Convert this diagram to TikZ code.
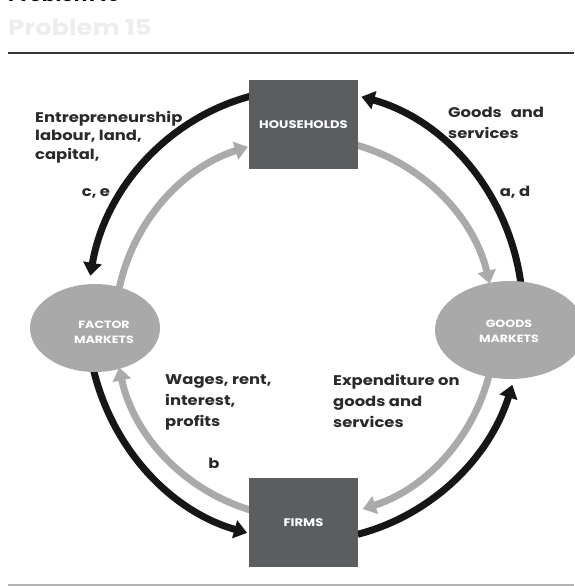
\documentclass[tikz,border=0pt]{standalone}
\usepackage{fontspec}
\setmainfont{Poppins}
\newfontfamily\widefont[FakeStretch=1.17]{Poppins}
\newfontfamily\capfont[FakeStretch=1.2]{Poppins}
\usetikzlibrary{arrows.meta,shapes.geometric}
\definecolor{boxgray}{HTML}{5B5E61}
\definecolor{ellgray}{HTML}{A9A9A9}
\definecolor{arrgray}{HTML}{AAAAAA}
\definecolor{arrblack}{HTML}{161616}
\definecolor{txt}{HTML}{2A2A2A}
\tikzset{
  flowblack/.style={draw=arrblack,line width=7pt,-{Triangle[width=18pt,length=13pt]}},
  flowgray/.style={draw=arrgray,line width=7pt,-{Triangle[width=18pt,length=13pt]}},
  agent/.style={rectangle,fill=boxgray,minimum width=109pt,minimum height=89pt,inner sep=0pt,
    text=white,font=\capfont\fontsize{11}{14}\selectfont\bfseries},
  market/.style={ellipse,fill=ellgray,inner sep=0pt},
  mlabel/.style={text=white,align=center,font=\capfont\fontsize{10.5}{15}\selectfont\bfseries,inner sep=0pt},
  flowlabel/.style={text=txt,align=left,inner sep=0pt,anchor=north west},
  letter/.style={text=txt,inner sep=0pt,font=\widefont\fontsize{14}{18}\selectfont\bfseries}
}
\begin{document}
\begin{tikzpicture}[x=1pt,y=-1pt]
\useasboundingbox[fill=white] (0,0) rectangle (574,586);
% header
\node[anchor=base west,inner sep=0pt,font=\fontsize{20}{24}\selectfont\bfseries] (ptitle) at (8,2) {Problem 15};
\node[anchor=base west,inner sep=0pt,text=black!7,font=\widefont\fontsize{22}{26}\selectfont\bfseries] (pghost) at (8,36) {Problem 15};
\draw[line width=1.8pt,black!78] (8,53) -- (574,53);
\draw[line width=1.5pt,black!30] (8,585) -- (574,585);
% centres of the flow circles
\coordinate (cb) at (305,315);
\coordinate (cg) at (305,328);
% black (outer) flows
\draw[flowblack] ([shift={(256:218 and 226)}]cb) arc[start angle=256,end angle=190,x radius=218,y radius=226];
\draw[flowblack] ([shift={(354:218 and 226)}]cb) arc[start angle=354,end angle=285,x radius=218,y radius=226];
\draw[flowblack] ([shift={(170:218 and 226)}]cb) arc[start angle=170,end angle=105.4,x radius=218,y radius=226];
\draw[flowblack] ([shift={(76:218 and 226)}]cb) arc[start angle=76,end angle=18,x radius=218,y radius=226];
% gray (inner) flows
\draw[flowgray] ([shift={(190:190)}]cg) arc[start angle=190,end angle=252.5,radius=190];
\draw[flowgray] ([shift={(285:190)}]cg) arc[start angle=285,end angle=346.5,radius=190];
\draw[flowgray] ([shift={(12:190)}]cg) arc[start angle=12,end angle=72.3,radius=190];
\draw[flowgray] ([shift={(106:190)}]cg) arc[start angle=106,end angle=168,radius=190];
% agents and markets
\node[agent] (hh) at (303.5,124.5) {HOUSEHOLDS};
\node[agent] (firms) at (303.5,522.5) {FIRMS};
\node[market,minimum width=130pt,minimum height=88pt] (fm) at (95,328) {};
\node[mlabel] (fmlab) at (104,332) {FACTOR\\MARKETS};
\node[market,minimum width=150pt,minimum height=98pt] (gm) at (510,330) {};
\node[mlabel] (gmlab) at (509,331) {GOODS\\MARKETS};
% flow labels
\node[flowlabel,font=\widefont\fontsize{14}{18.5}\selectfont\bfseries] (l1) at (35,111) {Entrepreneurship\\labour, land,\\capital,};
\node[flowlabel,font=\widefont\fontsize{14}{21}\selectfont\bfseries] (l2) at (448,107) {Goods\hspace{9pt}and\\services};
\node[flowlabel,font=\widefont\fontsize{14}{21}\selectfont\bfseries] (l3) at (165,374) {Wages, rent,\\interest,\\profits};
\node[flowlabel,font=\widefont\fontsize{14}{21}\selectfont\bfseries] (l4) at (333,374) {Expenditure on\\goods and\\services};
\node[letter] (ce) at (96,193) {c, e};
\node[letter] (ad) at (515,192) {a, d};
\node[letter] (b) at (214,463) {b};
\end{tikzpicture}
\end{document}
